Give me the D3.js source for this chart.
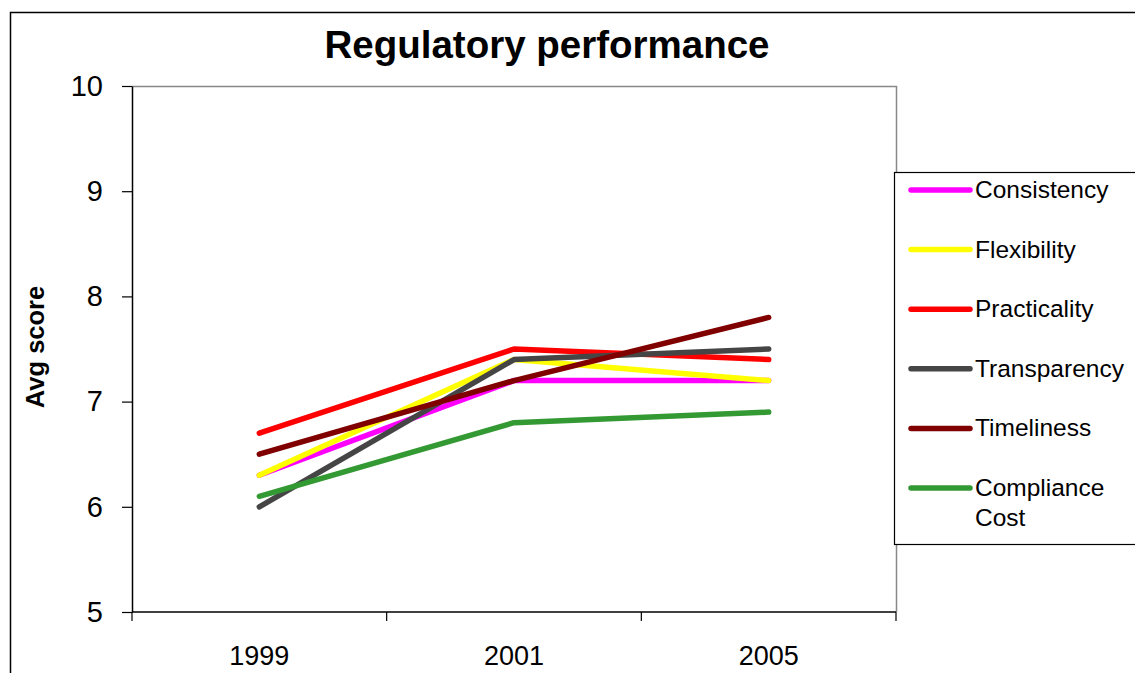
<!DOCTYPE html>
<html>
<head>
<meta charset="utf-8">
<script src="https://cdn.jsdelivr.net/npm/d3@7"></script>
<style>
  body { margin: 0; background: #fff; }
  svg text { font-family: "Liberation Sans", Arial, sans-serif; fill: #000; }
</style>
</head>
<body>
<div id="chart"></div>
<script>
// Chart data
const years = ["1999", "2001", "2005"];
const seriesNames = ["Consistency", "Flexibility", "Practicality", "Transparency", "Timeliness", "Compliance Cost"];
const seriesColors = ["#ff00ff", "#ffff00", "#ff0000", "#454545", "#800000", "#339933"];
const consistency = [6.3, 7.2, 7.2];
const flexibility = [6.3, 7.4, 7.2];
const practicality = [6.7, 7.5, 7.4];
const transparency = [6.0, 7.4, 7.5];
const timeliness = [6.5, 7.2, 7.8];
const complianceCost = [6.1, 6.8, 6.9];
const yTicks = [5, 6, 7, 8, 9, 10];

const seriesValues = [consistency, flexibility, practicality, transparency, timeliness, complianceCost];
const series = seriesNames.map((name, i) => ({
    name: name,
    color: seriesColors[i],
    values: seriesValues[i].map((v, j) => ({year: years[j], value: v}))
}));

const width = 1135;
const height = 673;
const plot = {left: 132, right: 896, top: 86, bottom: 612};

const svg = d3.select("#chart")
    .append("svg")
    .attr("width", width)
    .attr("height", height);

// outer chart border (runs off the right and bottom of the picture)
svg.append("path")
    .attr("d", `M10.5,${height} V12.5 H${width}`)
    .attr("fill", "none")
    .attr("stroke", "#000")
    .attr("stroke-width", 1.5);

const x = d3.scaleBand()
    .domain(years)
    .range([plot.left, plot.right])
    .padding(0);

const y = d3.scaleLinear()
    .domain([5, 10])
    .range([plot.bottom, plot.top]);

// plot frame: grey top and right edges
svg.append("path")
    .attr("d", `M${plot.left},${plot.top + 0.5} H${plot.right + 0.5} V${plot.bottom}`)
    .attr("fill", "none")
    .attr("stroke", "#888")
    .attr("stroke-width", 1.5);

// y axis
const yAxis = svg.append("g")
    .attr("transform", `translate(${plot.left},0)`)
    .call(d3.axisLeft(y).tickValues(yTicks).tickFormat(d3.format("d"))
        .tickSize(10).tickPadding(19).tickSizeOuter(0));
yAxis.select(".domain").attr("stroke", "#000").attr("stroke-width", 1.5);
yAxis.selectAll(".tick line").attr("stroke", "#000").attr("stroke-width", 1.2);
yAxis.selectAll(".tick text")
    .attr("font-size", 29)
    .attr("font-family", "Liberation Sans, Arial, sans-serif")
    .attr("fill", "#000");

// x axis: ticks sit between the categories
const xAxis = svg.append("g")
    .attr("transform", `translate(0,${plot.bottom})`);
xAxis.append("line")
    .attr("x1", plot.left).attr("x2", plot.right)
    .attr("stroke", "#000").attr("stroke-width", 1.5);
const edges = years.map(d => x(d)).concat([x(years[years.length - 1]) + x.bandwidth()]);
xAxis.selectAll(".xtick")
    .data(edges)
    .enter()
    .append("line")
    .attr("class", "xtick")
    .attr("x1", d => d).attr("x2", d => d)
    .attr("y1", 0).attr("y2", 9)
    .attr("stroke", "#000").attr("stroke-width", 1.2);
xAxis.selectAll(".xlabel")
    .data(years)
    .enter()
    .append("text")
    .attr("class", "xlabel")
    .attr("x", d => x(d) + x.bandwidth() / 2)
    .attr("y", 53)
    .attr("text-anchor", "middle")
    .attr("font-size", 27)
    .text(d => d);

// lines
const line = d3.line()
    .x(d => x(d.year) + x.bandwidth() / 2)
    .y(d => y(d.value));

svg.append("g")
    .selectAll("path")
    .data(series)
    .enter()
    .append("path")
    .attr("d", d => line(d.values))
    .attr("fill", "none")
    .attr("stroke", d => d.color)
    .attr("stroke-width", 5.5)
    .attr("stroke-linecap", "round")
    .attr("stroke-linejoin", "round");

// title
svg.append("text")
    .attr("x", 547)
    .attr("y", 58)
    .attr("text-anchor", "middle")
    .attr("font-size", 38.5)
    .attr("font-weight", "bold")
    .text("Regulatory performance");

// y axis title
svg.append("text")
    .attr("transform", `translate(44,${(plot.top + plot.bottom) / 2 - 2}) rotate(-90)`)
    .attr("text-anchor", "middle")
    .attr("font-size", 25.5)
    .attr("font-weight", "bold")
    .text("Avg score");

// legend
const legend = svg.append("g").attr("transform", "translate(894,172)");
legend.append("rect")
    .attr("x", 0.5).attr("y", 0.5)
    .attr("width", 260).attr("height", 372)
    .attr("fill", "#fff")
    .attr("stroke", "#000")
    .attr("stroke-width", 1.2);

const rows = legend.selectAll(".entry")
    .data(series)
    .enter()
    .append("g")
    .attr("class", "entry")
    .attr("transform", (d, i) => `translate(0,${18 + i * 59.6})`);
rows.append("line")
    .attr("x1", 17).attr("x2", 76)
    .attr("stroke", d => d.color)
    .attr("stroke-width", 5.5)
    .attr("stroke-linecap", "round");
rows.append("text")
    .attr("x", 81)
    .attr("y", 8)
    .attr("font-size", 24.5)
    .each(function(d) {
        const words = d.name === "Compliance Cost" ? ["Compliance", "Cost"] : [d.name];
        d3.select(this).selectAll("tspan")
            .data(words)
            .enter()
            .append("tspan")
            .attr("x", 81)
            .attr("dy", (w, k) => k === 0 ? 0 : 30)
            .text(w => w);
    });
</script>
</body>
</html>
